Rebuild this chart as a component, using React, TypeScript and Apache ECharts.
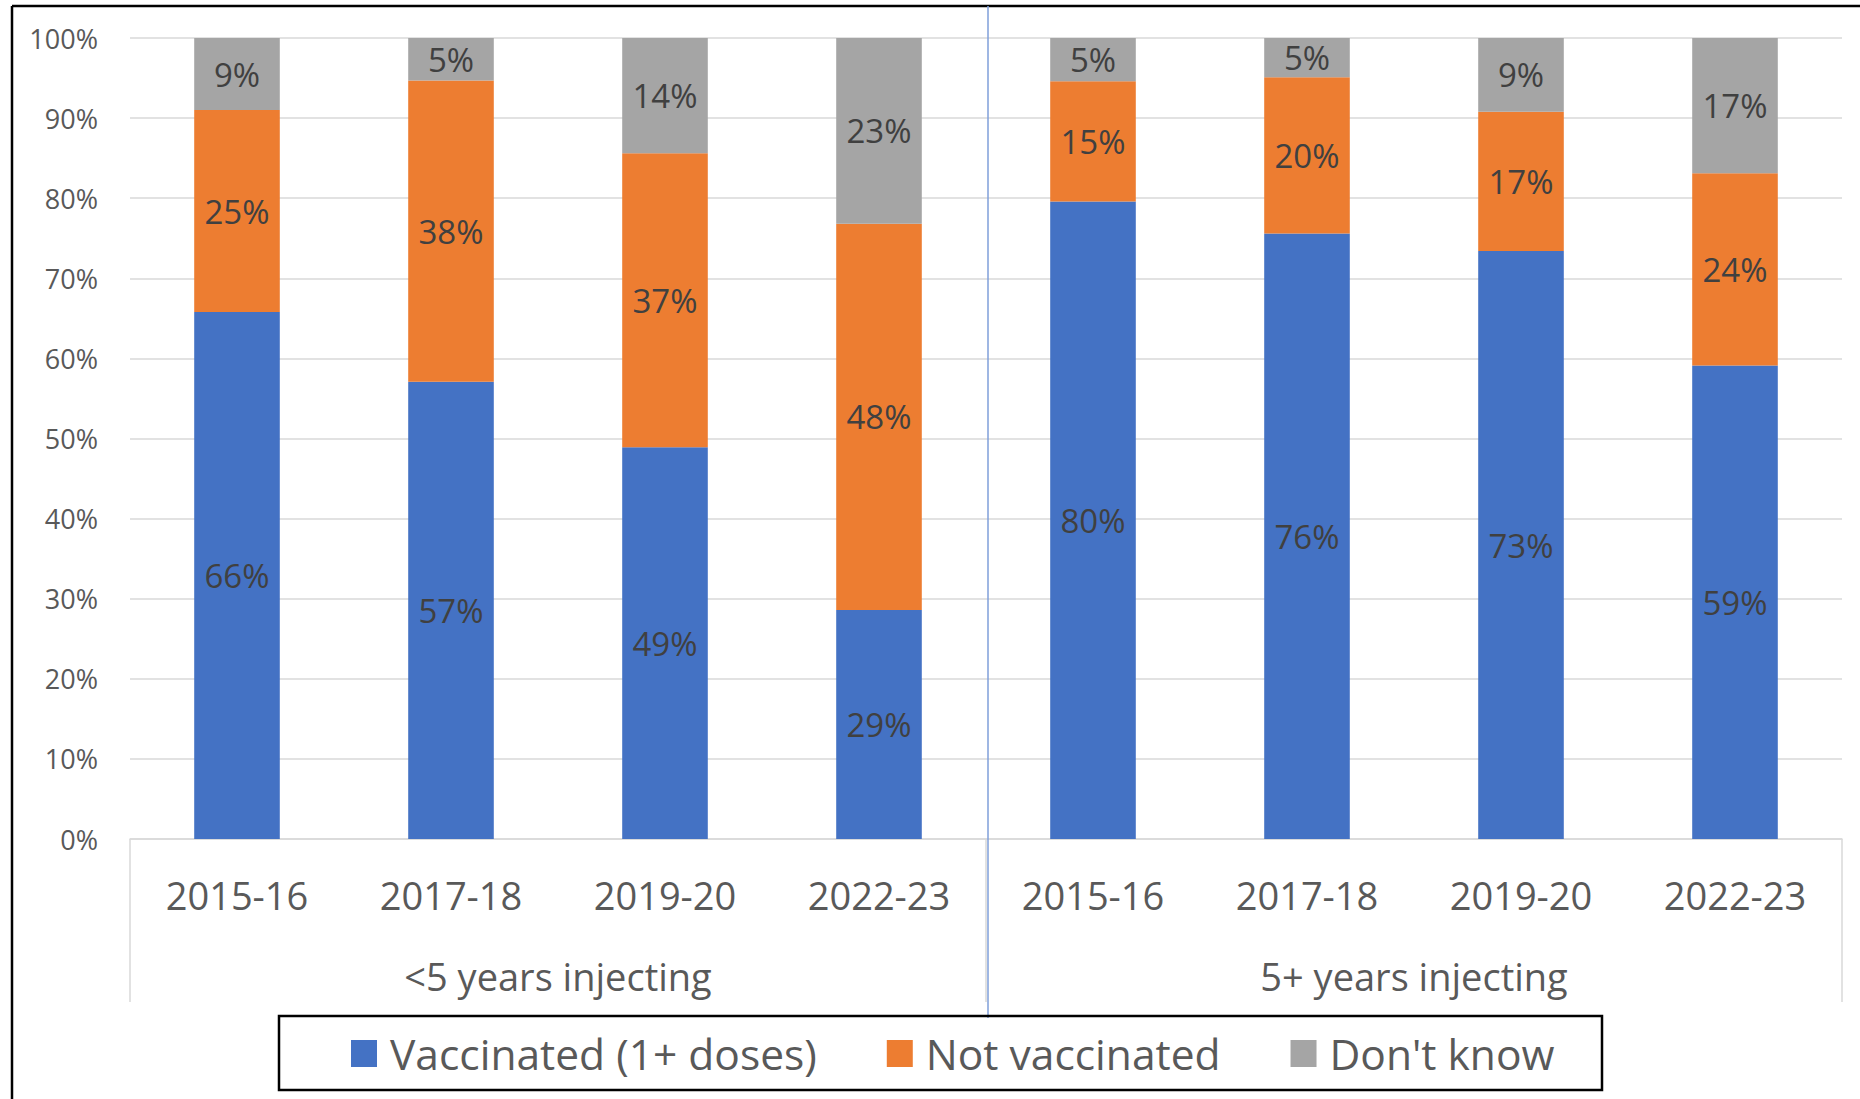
import React, { useEffect, useRef } from "react";
import * as echarts from "echarts";

const years = ["2015-16", "2017-18", "2019-20", "2022-23", "2015-16", "2017-18", "2019-20", "2022-23"];
const groups = ["<5 years injecting", "5+ years injecting"];
const vaccinated = [65.8, 57.1, 48.9, 28.6, 79.6, 75.6, 73.4, 59.1];
const notVaccinated = [25.2, 37.6, 36.7, 48.2, 15.0, 19.5, 17.4, 24.0];
const dontKnow = [9.0, 5.3, 14.4, 23.2, 5.4, 4.9, 9.2, 16.9];
const seriesNames = ["Vaccinated (1+ doses)", "Not vaccinated", "Don't know"];
const colors = ["#4472C4", "#ED7D31", "#A5A5A5"];

const FONT = "'Open Sans', 'Noto Sans', sans-serif";

export default function App() {
  const ref = useRef<HTMLDivElement>(null);
  useEffect(() => {
    document.body.style.margin = "0";
    if (!ref.current) return;
    const chart = echarts.init(ref.current, null, { renderer: "svg" });
    const mkSeries = (name: string, data: number[], color: string) => ({
      name,
      type: "bar",
      stack: "total",
      xAxisIndex: 0,
      barWidth: "40%",
      data,
      itemStyle: { color },
      label: {
        show: true,
        position: "inside",
        formatter: (p: any) => Math.round(p.value) + "%",
        color: "#404040",
        fontSize: 33,
        fontFamily: FONT,
      },
    });
    chart.setOption({
      animation: false,
      textStyle: { fontFamily: FONT },
      grid: { left: 130, right: 18, top: 38, bottom: 260, containLabel: false },
      legend: {
        left: 351,
        top: 1032,
        padding: 0,
        icon: "rect",
        itemWidth: 26,
        itemHeight: 27,
        itemGap: 70,
        data: seriesNames,
        textStyle: { fontSize: 42.5, color: "#595959", fontFamily: FONT, padding: [0, 0, 0, 8] },
      },
      xAxis: [
        {
          type: "category",
          data: years,
          position: "bottom",
          axisLine: { show: true, lineStyle: { color: "#D9D9D9", width: 1.5 } },
          axisTick: { show: false },
          axisLabel: { fontSize: 38, color: "#595959", margin: 37, fontFamily: FONT, interval: 0 },
        },
        {
          type: "category",
          data: groups,
          position: "bottom",
          offset: 0,
          axisLine: { show: false },
          axisTick: { show: true, length: 163, lineStyle: { color: "#D9D9D9", width: 1.5 } },
          axisLabel: { fontSize: 38, color: "#595959", margin: 118, fontFamily: FONT },
        },
      ],
      yAxis: {
        type: "value",
        min: 0,
        max: 100,
        interval: 10,
        axisLine: { show: false },
        axisTick: { show: false },
        axisLabel: { formatter: "{value}%", fontSize: 27, color: "#595959", margin: 32, fontFamily: FONT },
        splitLine: { lineStyle: { color: "#D9D9D9", width: 1.5 } },
      },
      series: [
        mkSeries(seriesNames[0], vaccinated, colors[0]),
        mkSeries(seriesNames[1], notVaccinated, colors[1]),
        mkSeries(seriesNames[2], dontKnow, colors[2]),
      ],
    });
    const x3 = chart.convertToPixel({ xAxisIndex: 0 }, 3) as number;
    const x4 = chart.convertToPixel({ xAxisIndex: 0 }, 4) as number;
    const divX = (x3 + x4) / 2 + 2;
    chart.setOption({
      graphic: [
        { type: "line", shape: { x1: 12, y1: 6, x2: 1860, y2: 6 }, style: { stroke: "#000", lineWidth: 2.5 }, z: 100 },
        { type: "line", shape: { x1: 12, y1: 6, x2: 12, y2: 1099 }, style: { stroke: "#000", lineWidth: 2.5 }, z: 100 },
        { type: "line", shape: { x1: divX, y1: 6, x2: divX, y2: 1018 }, style: { stroke: "#7F9FDA", lineWidth: 1.5 }, z: 100 },
        {
          type: "rect",
          shape: { x: 279, y: 1016, width: 1323, height: 74 },
          style: { fill: "none", stroke: "#000", lineWidth: 2.5 },
          z: 100,
        },
      ],
    });
    return () => chart.dispose();
  }, []);
  return <div ref={ref} style={{ width: 1860, height: 1099 }} />;
}
